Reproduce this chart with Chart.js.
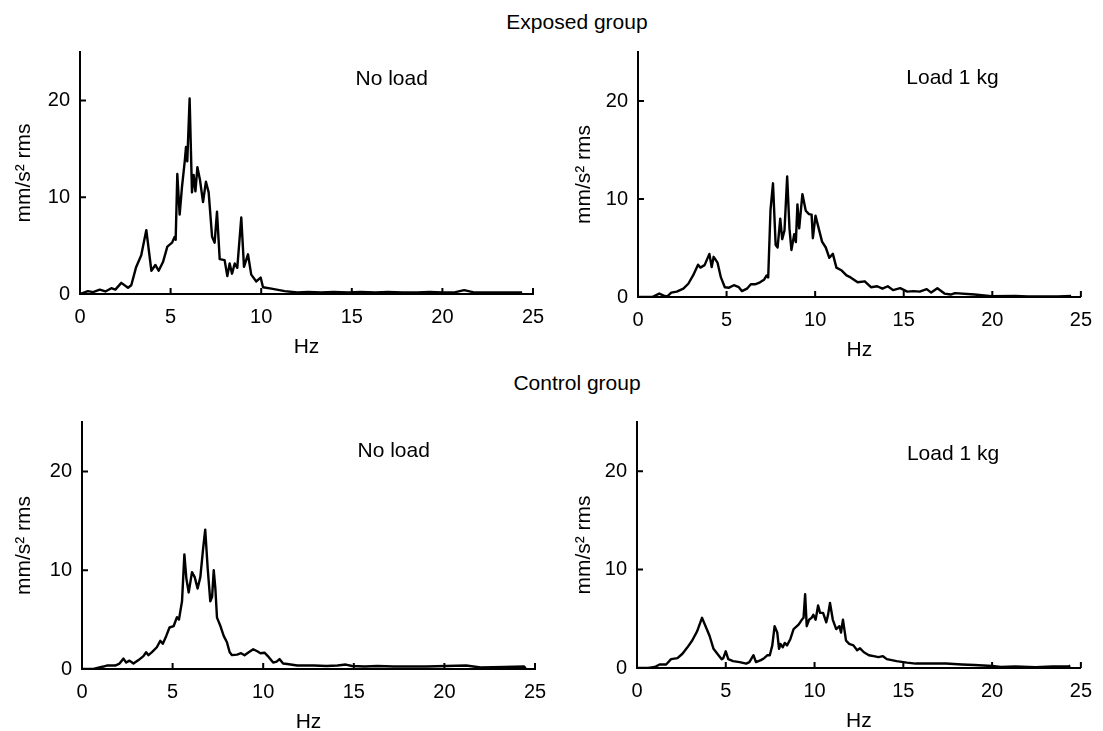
<!DOCTYPE html>
<html>
<head>
<meta charset="utf-8">
<script src="https://cdn.jsdelivr.net/npm/chart.js@4.4.1/dist/chart.umd.min.js"></script>
<style>
  html, body { margin: 0; padding: 0; background: #fff; overflow: hidden; }
  body { width: 1103px; height: 731px; position: relative; font-family: 'Liberation Sans', Arial, sans-serif; }
  .panel { position: absolute; }
  .group { position: absolute; width: 300px; text-align: center; font-size: 21px; line-height: 24px; color: #000; }
</style>
</head>
<body>
<div class="group" style="left:427px; top:10px;">Exposed group</div>
<div class="group" style="left:427px; top:371px;">Control group</div>

<div class="panel" style="left:0px; top:30px;"><canvas id="c1" width="560" height="328"></canvas></div>
<div class="panel" style="left:560px; top:30px;"><canvas id="c2" width="543" height="331"></canvas></div>
<div class="panel" style="left:0px; top:400px;"><canvas id="c3" width="560" height="333"></canvas></div>
<div class="panel" style="left:560px; top:400px;"><canvas id="c4" width="543" height="332"></canvas></div>

<script>
// x tick values and y tick values
const xTicks = [0, 5, 10, 15, 20, 25];
const yTicks = [0, 10, 20];

// Exposed group, no load
const hz1 = [0, 0.44, 0.72, 1.09, 1.4, 1.73, 1.95, 2.28, 2.65, 2.83, 3.1, 3.38, 3.66, 3.94, 4.16, 4.34, 4.58, 4.82, 5.08, 5.22,
  5.28, 5.37, 5.5, 5.63, 5.78, 5.85, 5.92, 6.05, 6.18, 6.27, 6.37, 6.48, 6.62, 6.79, 6.95, 7.1, 7.29, 7.43, 7.56, 7.71,
  7.98, 8.13, 8.26, 8.39, 8.54, 8.68, 8.9, 9.05, 9.27, 9.45, 9.73, 9.97, 10.1, 10.56, 11.3, 12.0,
  12.6, 13.3, 14.0, 14.8, 15.5, 16.3, 17.0, 17.8, 18.6, 19.3, 20.0, 20.6, 21.2, 21.8, 22.6, 23.4, 24.4];
const expNoLoad = [0, 0.3, 0.2, 0.45, 0.26, 0.6, 0.45, 1.15, 0.65, 0.9, 2.8, 4.0, 6.6, 2.4, 3.0, 2.4, 3.3, 4.9, 5.3, 5.9,
  5.6, 12.4, 8.2, 11.1, 13.7, 15.2, 13.7, 20.2, 10.5, 12.3, 10.6, 13.1, 11.8, 9.5, 11.6, 10.5, 5.9, 5.3, 8.5, 3.6,
  3.5, 1.85, 3.15, 2.1, 3.15, 2.7, 7.9, 2.8, 4.1, 2.0, 1.3, 1.7, 0.7, 0.55, 0.3, 0.15,
  0.2, 0.15, 0.2, 0.15, 0.2, 0.15, 0.2, 0.15, 0.15, 0.2, 0.15, 0.15, 0.4, 0.15, 0.15, 0.15, 0.15];

// Exposed group, load 1 kg
const hz2 = [0, 0.8, 1.2, 1.45, 1.64, 1.88, 2.19, 2.56, 2.84, 3.11, 3.39, 3.52, 3.76, 4.03, 4.16, 4.27, 4.49, 4.68, 4.9, 5.14,
  5.41, 5.69, 5.87, 6.15, 6.37, 6.61, 6.89, 7.11, 7.26, 7.35, 7.48, 7.62, 7.77, 7.88, 8.03, 8.14, 8.27, 8.42, 8.55, 8.66,
  8.82, 8.91, 9.0, 9.1, 9.28, 9.47, 9.65, 9.8, 9.87, 10.02, 10.2, 10.39, 10.6, 10.8, 11.0, 11.2, 11.5, 11.77, 12.0, 12.4,
  12.8, 13.15, 13.5, 13.8, 14.1, 14.4, 14.8, 15.2, 15.55, 15.9, 16.3, 16.55, 16.9, 17.3, 17.65, 17.9, 19.0, 19.95, 21.3, 22.0,
  22.8, 23.7, 24.45];
const expLoad = [0, 0, 0.35, 0.15, 0.05, 0.45, 0.55, 0.85, 1.35, 2.2, 3.3, 3.0, 3.25, 4.4, 3.05, 4.1, 3.5, 2.0, 1.0, 0.95,
  1.2, 1.0, 0.6, 0.85, 1.3, 1.3, 1.5, 1.75, 2.2, 2.0, 8.9, 11.6, 5.3, 5.05, 8.0, 5.9, 6.8, 12.3, 7.0, 4.8,
  6.4, 5.6, 9.45, 7.0, 10.5, 8.8, 8.45, 8.4, 6.0, 8.3, 7.0, 5.65, 5.05, 4.0, 4.4, 3.0, 2.7, 2.2, 2.0, 1.5,
  1.6, 1.0, 1.1, 0.85, 1.1, 0.7, 0.9, 0.55, 0.6, 0.55, 0.8, 0.45, 0.9, 0.35, 0.25, 0.4, 0.25, 0.07, 0.1, 0.05,
  0.05, 0.05, 0.1];

// Control group, no load
const hz3 = [0, 0.63, 1.18, 1.37, 1.83, 2.07, 2.29, 2.44, 2.62, 2.84, 3.12, 3.39, 3.54, 3.67, 3.86, 4.13, 4.32, 4.46, 4.65, 4.83,
  5.06, 5.24, 5.35, 5.52, 5.65, 5.76, 5.89, 6.07, 6.22, 6.38, 6.53, 6.68, 6.8, 6.94, 7.08, 7.18, 7.27, 7.36, 7.45, 7.64,
  7.82, 8.0, 8.15, 8.28, 8.56, 8.78, 8.97, 9.2, 9.45, 9.67, 9.85, 10.07, 10.31, 10.55, 10.74, 10.9, 11.1, 11.33, 11.88, 12.8,
  13.5, 14.1, 14.56, 14.9, 15.6, 16.3, 17.2, 19.0, 21.2, 22.0, 23.3, 24.4, 24.5];
const ctlNoLoad = [0, 0, 0.25, 0.35, 0.35, 0.55, 1.05, 0.65, 0.85, 0.55, 0.9, 1.3, 1.7, 1.4, 1.7, 2.2, 2.85, 2.55, 3.35, 4.2,
  4.35, 5.25, 5.0, 6.85, 11.6, 9.15, 7.75, 9.8, 9.3, 8.15, 9.3, 12.1, 14.1, 10.1, 6.85, 7.3, 10.0, 8.15, 5.2, 4.35,
  3.35, 2.7, 1.7, 1.4, 1.45, 1.6, 1.4, 1.7, 2.0, 1.8, 1.6, 1.65, 1.2, 0.65, 0.75, 1.0, 0.55, 0.5, 0.35, 0.35,
  0.3, 0.35, 0.45, 0.3, 0.25, 0.3, 0.25, 0.25, 0.35, 0.15, 0.2, 0.25, 0];

// Control group, load 1 kg
const hz4 = [0, 0.63, 1.0, 1.27, 1.64, 1.92, 2.28, 2.56, 2.84, 3.11, 3.39, 3.66, 3.85, 4.09, 4.31, 4.59, 4.77, 4.86, 5.0, 5.14,
  5.41, 5.78, 6.15, 6.33, 6.56, 6.7, 6.98, 7.16, 7.35, 7.48, 7.62, 7.75, 7.9, 8.0, 8.08, 8.21, 8.32, 8.45, 8.64, 8.82,
  9.1, 9.28, 9.38, 9.47, 9.56, 9.69, 9.83, 9.93, 10.06, 10.2, 10.31, 10.48, 10.66, 10.76, 10.87, 11.03, 11.22, 11.4, 11.49, 11.6,
  11.77, 11.95, 12.19, 12.4, 12.56, 12.78, 13.06, 13.33, 13.6, 13.85, 14.07, 14.62, 15.2, 15.7, 16.46, 17.4, 18.3, 19.0, 20.0, 20.5,
  21.3, 22.45, 23.4, 24.3, 24.4];
const ctlLoad = [0, 0, 0.1, 0.35, 0.35, 0.9, 1.0, 1.45, 2.1, 2.8, 3.75, 5.1, 4.3, 3.25, 1.95, 1.3, 0.9, 1.0, 1.7, 0.9,
  0.7, 0.6, 0.45, 0.6, 1.3, 0.6, 0.8, 1.0, 1.3, 1.3, 2.3, 4.25, 3.6, 1.95, 2.45, 2.1, 2.55, 2.3, 2.95, 3.95,
  4.4, 4.9, 5.1, 7.5, 4.25, 4.9, 5.1, 5.4, 4.9, 6.35, 5.6, 5.6, 4.65, 5.4, 6.6, 4.9, 3.95, 4.25, 3.6, 4.9,
  2.8, 2.45, 2.3, 1.8, 2.0, 1.6, 1.3, 1.2, 1.1, 1.2, 0.9, 0.7, 0.55, 0.45, 0.45, 0.45, 0.35, 0.3, 0.2, 0.1,
  0.15, 0.07, 0.15, 0.15, 0.25];

const FONT = "'Liberation Sans', Arial, sans-serif";

// short tick marks pointing into the plot, plus the panel label
const inwardTicks = {
  id: 'inwardTicks',
  afterDatasetsDraw(chart) {
    const { ctx, chartArea, scales: { x, y } } = chart;
    ctx.save();
    ctx.strokeStyle = '#000';
    ctx.lineWidth = 2;
    ctx.beginPath();
    xTicks.forEach(v => {
      if (v === 0) return;
      const px = x.getPixelForValue(v);
      ctx.moveTo(px, chartArea.bottom);
      ctx.lineTo(px, chartArea.bottom - 6);
    });
    yTicks.forEach(v => {
      if (v === 0) return;
      const py = y.getPixelForValue(v);
      ctx.moveTo(chartArea.left, py);
      ctx.lineTo(chartArea.left + 6, py);
    });
    ctx.stroke();
    const lab = chart.options.plugins.inwardTicks;
    ctx.fillStyle = '#000';
    ctx.font = '21px ' + FONT;
    ctx.textAlign = 'center';
    ctx.textBaseline = 'middle';
    ctx.fillText(lab.text, x.getPixelForValue(lab.at[0]), y.getPixelForValue(lab.at[1]));
    ctx.restore();
  }
};

function makePanel(id, hz, vals, label, labelAt, pad, yWidth) {
  new Chart(document.getElementById(id), {
    type: 'line',
    data: {
      datasets: [{
        data: hz.map((h, i) => ({ x: h, y: vals[i] })),
        borderColor: '#000',
        borderWidth: 2.4,
        borderJoinStyle: 'round',
        pointRadius: 0,
        tension: 0,
        fill: false
      }]
    },
    options: {
      responsive: false,
      animation: false,
      layout: { padding: pad },
      scales: {
        x: {
          type: 'linear',
          min: 0,
          max: 25,
          afterBuildTicks: (s) => { s.ticks = xTicks.map(v => ({ value: v })); },
          afterFit: (s) => { s.height = 64; },
          grid: { display: false, drawTicks: false },
          border: { display: true, color: '#000', width: 2 },
          ticks: { color: '#000', padding: 11, font: { size: 20, family: FONT }, maxRotation: 0 },
          title: { display: true, text: 'Hz', color: '#000', padding: 0, font: { size: 21, family: FONT, lineHeight: 1 } }
        },
        y: {
          type: 'linear',
          min: 0,
          max: 25,
          afterBuildTicks: (s) => { s.ticks = yTicks.map(v => ({ value: v })); },
          afterFit: (s) => { s.width = yWidth; },
          grid: { display: false, drawTicks: false },
          border: { display: true, color: '#000', width: 2 },
          ticks: { color: '#000', padding: 10, font: { size: 20, family: FONT } },
          title: { display: true, text: 'mm/s² rms', color: '#000', padding: 0, font: { size: 21, family: FONT, lineHeight: 1 } }
        }
      },
      plugins: {
        legend: { display: false },
        tooltip: { enabled: false },
        inwardTicks: { text: label, at: labelAt }
      }
    },
    plugins: [inwardTicks]
  });
}

makePanel('c1', hz1, expNoLoad, 'No load', [17.2, 22.2], { left: 14, top: 10, right: 27, bottom: 0 }, 66);
makePanel('c2', hz2, expLoad, 'Load 1 kg', [17.75, 22.3], { left: 14, top: 14, right: 20, bottom: 0 }, 64);
makePanel('c3', hz3, ctlNoLoad, 'No load', [17.2, 22.0], { left: 14, top: 16, right: 25, bottom: 0 }, 68);
makePanel('c4', hz4, ctlLoad, 'Load 1 kg', [17.8, 21.7], { left: 14, top: 14, right: 21, bottom: 0 }, 63);
</script>
</body>
</html>
